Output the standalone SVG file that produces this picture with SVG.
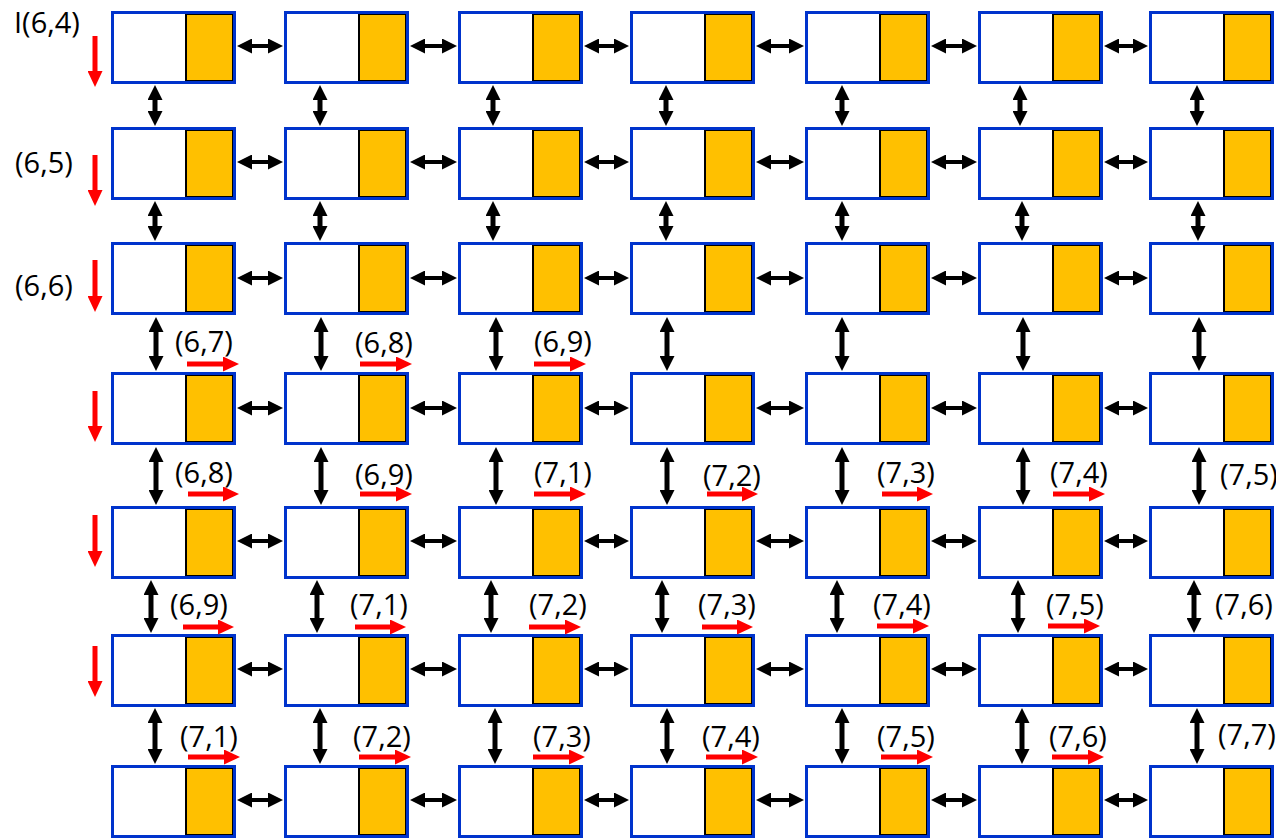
<svg xmlns="http://www.w3.org/2000/svg" width="1276" height="838" viewBox="0 0 1276 838">
<style>
.lbl{font-family:"Open Sans","Liberation Sans",sans-serif;font-size:29px;fill:#000}
.h{stroke:#000;stroke-width:4;fill:none;marker-start:url(#bk);marker-end:url(#bk)}
.v{stroke:#000;stroke-width:5;fill:none;marker-start:url(#bk);marker-end:url(#bk)}
.r{stroke:#f00;stroke-width:5;fill:none;marker-end:url(#rd)}
</style>
<defs>
<marker id="bk" markerUnits="userSpaceOnUse" markerWidth="15" markerHeight="15" refX="5" refY="7.5" orient="auto-start-reverse"><path d="M0,0 L15,7.5 L0,15 z" fill="#000"/></marker>
<marker id="rd" markerUnits="userSpaceOnUse" markerWidth="16" markerHeight="15" refX="6" refY="7.5" orient="auto"><path d="M0,0 L16,7.5 L0,15 z" fill="#f00"/></marker>
<g id="cell">
<rect x="1.5" y="1.5" width="122" height="70" fill="#fff"/>
<rect x="75" y="3" width="47" height="67" fill="#FFC000" stroke="#000" stroke-width="2"/>
<rect x="1.5" y="1.5" width="122" height="70" fill="none" stroke="#0033CC" stroke-width="3"/>
</g>
</defs>
<rect width="1276" height="838" fill="#fff"/>
<g id="nodes">
<g id="n0-0" transform="translate(111,11)"><use href="#cell"/></g>
<g id="n0-1" transform="translate(284,11)"><use href="#cell"/></g>
<g id="n0-2" transform="translate(458,11)"><use href="#cell"/></g>
<g id="n0-3" transform="translate(630,11)"><use href="#cell"/></g>
<g id="n0-4" transform="translate(805,11)"><use href="#cell"/></g>
<g id="n0-5" transform="translate(978,11)"><use href="#cell"/></g>
<g id="n0-6" transform="translate(1149,11)"><use href="#cell"/></g>
<g id="n1-0" transform="translate(111,127)"><use href="#cell"/></g>
<g id="n1-1" transform="translate(284,127)"><use href="#cell"/></g>
<g id="n1-2" transform="translate(458,127)"><use href="#cell"/></g>
<g id="n1-3" transform="translate(630,127)"><use href="#cell"/></g>
<g id="n1-4" transform="translate(805,127)"><use href="#cell"/></g>
<g id="n1-5" transform="translate(978,127)"><use href="#cell"/></g>
<g id="n1-6" transform="translate(1149,127)"><use href="#cell"/></g>
<g id="n2-0" transform="translate(111,242)"><use href="#cell"/></g>
<g id="n2-1" transform="translate(284,242)"><use href="#cell"/></g>
<g id="n2-2" transform="translate(458,242)"><use href="#cell"/></g>
<g id="n2-3" transform="translate(630,242)"><use href="#cell"/></g>
<g id="n2-4" transform="translate(805,242)"><use href="#cell"/></g>
<g id="n2-5" transform="translate(978,242)"><use href="#cell"/></g>
<g id="n2-6" transform="translate(1149,242)"><use href="#cell"/></g>
<g id="n3-0" transform="translate(111,372)"><use href="#cell"/></g>
<g id="n3-1" transform="translate(284,372)"><use href="#cell"/></g>
<g id="n3-2" transform="translate(458,372)"><use href="#cell"/></g>
<g id="n3-3" transform="translate(630,372)"><use href="#cell"/></g>
<g id="n3-4" transform="translate(805,372)"><use href="#cell"/></g>
<g id="n3-5" transform="translate(978,372)"><use href="#cell"/></g>
<g id="n3-6" transform="translate(1149,372)"><use href="#cell"/></g>
<g id="n4-0" transform="translate(111,506)"><use href="#cell"/></g>
<g id="n4-1" transform="translate(284,506)"><use href="#cell"/></g>
<g id="n4-2" transform="translate(458,506)"><use href="#cell"/></g>
<g id="n4-3" transform="translate(630,506)"><use href="#cell"/></g>
<g id="n4-4" transform="translate(805,506)"><use href="#cell"/></g>
<g id="n4-5" transform="translate(978,506)"><use href="#cell"/></g>
<g id="n4-6" transform="translate(1149,506)"><use href="#cell"/></g>
<g id="n5-0" transform="translate(111,634)"><use href="#cell"/></g>
<g id="n5-1" transform="translate(284,634)"><use href="#cell"/></g>
<g id="n5-2" transform="translate(458,634)"><use href="#cell"/></g>
<g id="n5-3" transform="translate(630,634)"><use href="#cell"/></g>
<g id="n5-4" transform="translate(805,634)"><use href="#cell"/></g>
<g id="n5-5" transform="translate(978,634)"><use href="#cell"/></g>
<g id="n5-6" transform="translate(1149,634)"><use href="#cell"/></g>
<g id="n6-0" transform="translate(111,765)"><use href="#cell"/></g>
<g id="n6-1" transform="translate(284,765)"><use href="#cell"/></g>
<g id="n6-2" transform="translate(458,765)"><use href="#cell"/></g>
<g id="n6-3" transform="translate(630,765)"><use href="#cell"/></g>
<g id="n6-4" transform="translate(805,765)"><use href="#cell"/></g>
<g id="n6-5" transform="translate(978,765)"><use href="#cell"/></g>
<g id="n6-6" transform="translate(1149,765)"><use href="#cell"/></g>
</g>
<g id="connectors">
<line class="h" x1="247" y1="46" x2="273" y2="46"/><line class="h" x1="420" y1="46" x2="447" y2="46"/><line class="h" x1="594" y1="46" x2="619" y2="46"/><line class="h" x1="766" y1="46" x2="794" y2="46"/><line class="h" x1="941" y1="46" x2="967" y2="46"/><line class="h" x1="1114" y1="46" x2="1138" y2="46"/>
<line class="h" x1="247" y1="162" x2="273" y2="162"/><line class="h" x1="420" y1="162" x2="447" y2="162"/><line class="h" x1="594" y1="162" x2="619" y2="162"/><line class="h" x1="766" y1="162" x2="794" y2="162"/><line class="h" x1="941" y1="162" x2="967" y2="162"/><line class="h" x1="1114" y1="162" x2="1138" y2="162"/>
<line class="h" x1="247" y1="278" x2="273" y2="278"/><line class="h" x1="420" y1="278" x2="447" y2="278"/><line class="h" x1="594" y1="278" x2="619" y2="278"/><line class="h" x1="766" y1="278" x2="794" y2="278"/><line class="h" x1="941" y1="278" x2="967" y2="278"/><line class="h" x1="1114" y1="278" x2="1138" y2="278"/>
<line class="h" x1="247" y1="408" x2="273" y2="408"/><line class="h" x1="420" y1="408" x2="447" y2="408"/><line class="h" x1="594" y1="408" x2="619" y2="408"/><line class="h" x1="766" y1="408" x2="794" y2="408"/><line class="h" x1="941" y1="408" x2="967" y2="408"/><line class="h" x1="1114" y1="408" x2="1138" y2="408"/>
<line class="h" x1="247" y1="541" x2="273" y2="541"/><line class="h" x1="420" y1="541" x2="447" y2="541"/><line class="h" x1="594" y1="541" x2="619" y2="541"/><line class="h" x1="766" y1="541" x2="794" y2="541"/><line class="h" x1="941" y1="541" x2="967" y2="541"/><line class="h" x1="1114" y1="541" x2="1138" y2="541"/>
<line class="h" x1="247" y1="669" x2="273" y2="669"/><line class="h" x1="420" y1="669" x2="447" y2="669"/><line class="h" x1="594" y1="669" x2="619" y2="669"/><line class="h" x1="766" y1="669" x2="794" y2="669"/><line class="h" x1="941" y1="669" x2="967" y2="669"/><line class="h" x1="1114" y1="669" x2="1138" y2="669"/>
<line class="h" x1="247" y1="800" x2="273" y2="800"/><line class="h" x1="420" y1="800" x2="447" y2="800"/><line class="h" x1="594" y1="800" x2="619" y2="800"/><line class="h" x1="766" y1="800" x2="794" y2="800"/><line class="h" x1="941" y1="800" x2="967" y2="800"/><line class="h" x1="1114" y1="800" x2="1138" y2="800"/>
<line class="v" x1="155" y1="95" x2="155" y2="116"/><line class="v" x1="320" y1="95" x2="320" y2="116"/><line class="v" x1="493" y1="95" x2="493" y2="116"/><line class="v" x1="666" y1="95" x2="666" y2="116"/><line class="v" x1="842" y1="95" x2="842" y2="116"/><line class="v" x1="1020" y1="95" x2="1020" y2="116"/><line class="v" x1="1197" y1="95" x2="1197" y2="116"/>
<line class="v" x1="155" y1="211" x2="155" y2="231"/><line class="v" x1="320" y1="211" x2="320" y2="231"/><line class="v" x1="493" y1="211" x2="493" y2="231"/><line class="v" x1="666" y1="211" x2="666" y2="231"/><line class="v" x1="842" y1="211" x2="842" y2="231"/><line class="v" x1="1022" y1="211" x2="1022" y2="231"/><line class="v" x1="1198" y1="211" x2="1198" y2="231"/>
<line class="v" x1="156" y1="327" x2="156" y2="361"/><line class="v" x1="321" y1="327" x2="321" y2="361"/><line class="v" x1="496" y1="327" x2="496" y2="361"/><line class="v" x1="667" y1="327" x2="667" y2="361"/><line class="v" x1="842" y1="327" x2="842" y2="361"/><line class="v" x1="1023" y1="327" x2="1023" y2="361"/><line class="v" x1="1199" y1="327" x2="1199" y2="361"/>
<line class="v" x1="156" y1="457" x2="156" y2="495"/><line class="v" x1="321" y1="457" x2="321" y2="495"/><line class="v" x1="496" y1="457" x2="496" y2="495"/><line class="v" x1="667" y1="457" x2="667" y2="495"/><line class="v" x1="842" y1="457" x2="842" y2="495"/><line class="v" x1="1023" y1="457" x2="1023" y2="495"/><line class="v" x1="1199" y1="457" x2="1199" y2="495"/>
<line class="v" x1="151" y1="590" x2="151" y2="623"/><line class="v" x1="317" y1="590" x2="317" y2="623"/><line class="v" x1="491" y1="590" x2="491" y2="623"/><line class="v" x1="662" y1="590" x2="662" y2="623"/><line class="v" x1="837" y1="590" x2="837" y2="623"/><line class="v" x1="1018" y1="590" x2="1018" y2="623"/><line class="v" x1="1194" y1="590" x2="1194" y2="623"/>
<line class="v" x1="155" y1="718" x2="155" y2="754"/><line class="v" x1="320" y1="718" x2="320" y2="754"/><line class="v" x1="495" y1="718" x2="495" y2="754"/><line class="v" x1="667" y1="718" x2="667" y2="754"/><line class="v" x1="842" y1="718" x2="842" y2="754"/><line class="v" x1="1022" y1="718" x2="1022" y2="754"/><line class="v" x1="1197" y1="718" x2="1197" y2="754"/>
<line class="r" x1="95" y1="36" x2="95" y2="77"/>
<line class="r" x1="95" y1="155" x2="95" y2="196"/>
<line class="r" x1="95" y1="260" x2="95" y2="302"/>
<line class="r" x1="95" y1="391" x2="95" y2="432"/>
<line class="r" x1="95" y1="515" x2="95" y2="557"/>
<line class="r" x1="95" y1="646" x2="95" y2="687"/>
<line class="r" x1="187" y1="364" x2="229" y2="364"/>
<line class="r" x1="360" y1="364" x2="402" y2="364"/>
<line class="r" x1="534" y1="364" x2="576" y2="364"/>
<line class="r" x1="188" y1="494" x2="229" y2="494"/>
<line class="r" x1="360" y1="494" x2="402" y2="494"/>
<line class="r" x1="534" y1="494" x2="576" y2="494"/>
<line class="r" x1="707" y1="494" x2="748" y2="494"/>
<line class="r" x1="882" y1="494" x2="923" y2="494"/>
<line class="r" x1="1053" y1="494" x2="1095" y2="494"/>
<line class="r" x1="183" y1="627" x2="224" y2="627"/>
<line class="r" x1="355" y1="627" x2="396" y2="627"/>
<line class="r" x1="529" y1="627" x2="571" y2="627"/>
<line class="r" x1="702" y1="627" x2="743" y2="627"/>
<line class="r" x1="877" y1="626" x2="919" y2="626"/>
<line class="r" x1="1048" y1="626" x2="1090" y2="626"/>
<line class="r" x1="188" y1="757" x2="230" y2="757"/>
<line class="r" x1="359" y1="757" x2="401" y2="757"/>
<line class="r" x1="533" y1="757" x2="575" y2="757"/>
<line class="r" x1="706" y1="757" x2="748" y2="757"/>
<line class="r" x1="881" y1="757" x2="923" y2="757"/>
<line class="r" x1="1052" y1="757" x2="1094" y2="757"/>
</g>
<g id="labels">
<text class="lbl" x="14" y="33" font-size="31">I(6,4)</text>
<text class="lbl" x="15" y="173">(6,5)</text>
<text class="lbl" x="15" y="296">(6,6)</text>
<text class="lbl" x="175" y="352">(6,7)</text>
<text class="lbl" x="355" y="353">(6,8)</text>
<text class="lbl" x="534" y="352">(6,9)</text>
<text class="lbl" x="175" y="483">(6,8)</text>
<text class="lbl" x="355" y="485">(6,9)</text>
<text class="lbl" x="534" y="483">(7,1)</text>
<text class="lbl" x="703" y="486">(7,2)</text>
<text class="lbl" x="877" y="483">(7,3)</text>
<text class="lbl" x="1050" y="483">(7,4)</text>
<text class="lbl" x="1220" y="485">(7,5)</text>
<text class="lbl" x="170" y="615">(6,9)</text>
<text class="lbl" x="350" y="615">(7,1)</text>
<text class="lbl" x="529" y="615">(7,2)</text>
<text class="lbl" x="698" y="615">(7,3)</text>
<text class="lbl" x="873" y="615">(7,4)</text>
<text class="lbl" x="1046" y="615">(7,5)</text>
<text class="lbl" x="1215" y="615">(7,6)</text>
<text class="lbl" x="180" y="747">(7,1)</text>
<text class="lbl" x="353" y="747">(7,2)</text>
<text class="lbl" x="533" y="747">(7,3)</text>
<text class="lbl" x="702" y="747">(7,4)</text>
<text class="lbl" x="877" y="747">(7,5)</text>
<text class="lbl" x="1049" y="747">(7,6)</text>
<text class="lbl" x="1218" y="745">(7,7)</text>
</g>
</svg>
